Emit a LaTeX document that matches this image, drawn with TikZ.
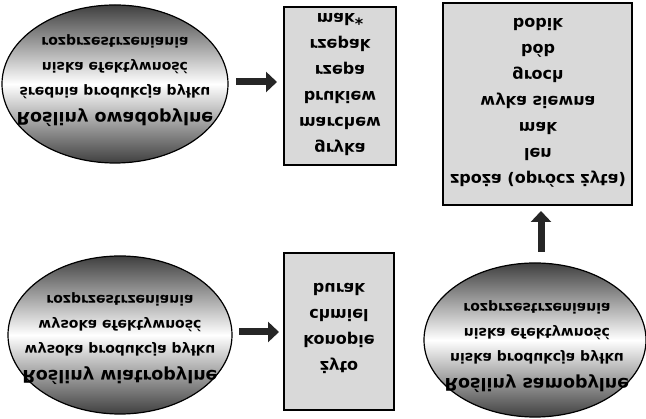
\documentclass[tikz,border=0pt]{standalone}
\usepackage{fontspec}
\setmainfont{DejaVu Sans}
\usetikzlibrary{arrows.meta}
\newcommand{\flp}[1]{\scalebox{1}[-1]{#1}}
\begin{document}
\begin{tikzpicture}[x=1pt,y=-1pt,
  ell/.style={draw=black,line width=1.2pt,top color=black!75,bottom color=black!75,middle color=white},
  lbl/.style={align=center,font=\bfseries\fontsize{14}{25}\selectfont},
  bx/.style={draw=black,line width=1.2pt,fill=black!15},
  btxt/.style={align=center,font=\bfseries\fontsize{16}{26}\selectfont},
  blk/.style={line width=7pt,-{Triangle[length=11pt,width=20pt]},black!85}]
\useasboundingbox (0,0) rectangle (646,419);
\fill[ell] (115,84) ellipse [x radius=113,y radius=79];
\fill[ell] (120,335) ellipse [x radius=112,y radius=79];
\fill[ell] (535,340) ellipse [x radius=111,y radius=77];
\node[lbl] (e1) at (115,80) {\flp{\begin{tabular}{c}\fontsize{17.5}{25}\selectfont Rośliny owadopylne\\ średnia produkcja pyłku\\ niska efektywność\\ rozprzestrzeniania\end{tabular}}};
\node[lbl] (e2) at (120,338) {\flp{\begin{tabular}{c}\fontsize{17.5}{25}\selectfont Rośliny wiatropylne\\ wysoka produkcja pyłku\\ wysoka efektywność\\ rozprzestrzeniania\end{tabular}}};
\node[lbl] (e3) at (537,346) {\flp{\begin{tabular}{c}\fontsize{17.5}{25}\selectfont Rośliny samopylne\\ niska produkcja pyłku\\ niska efektywność\\ rozprzestrzeniania\end{tabular}}};
\draw[bx] (284,7) rectangle (396,165);
\draw[bx] (284,253) rectangle (394,410);
\draw[bx] (443,3) rectangle (632,205);
\node[btxt] (b1) at (340,84) {\flp{\begin{tabular}{c}gryka\\marchew\\brukiew\\rzepa\\rzepak\\mak*\end{tabular}}};
\node[btxt] (b2) at (339,328) {\flp{\begin{tabular}{c}żyto\\konopie\\chmiel\\burak\end{tabular}}};
\node[btxt] (b3) at (538,102) {\flp{\begin{tabular}{c}zboża (oprócz żyta)\\len\\mak\\wyka siewna\\groch\\bób\\bobik\end{tabular}}};
\coordinate (a1s) at (236,82); \coordinate (a1e) at (277,82);
\coordinate (a2s) at (239,332); \coordinate (a2e) at (279,332);
\coordinate (a3s) at (541,252); \coordinate (a3e) at (541,211);
\draw[blk] (a1s) -- (a1e);
\draw[blk] (a2s) -- (a2e);
\draw[blk] (a3s) -- (a3e);
\end{tikzpicture}
\end{document}
